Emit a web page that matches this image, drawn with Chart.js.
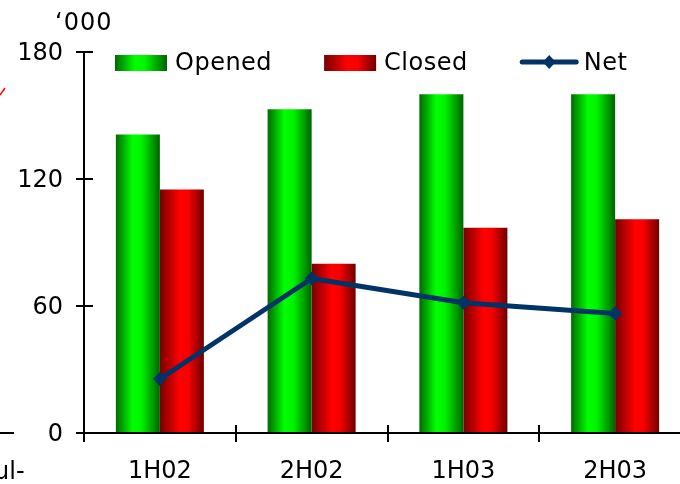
<!DOCTYPE html>
<html>
<head>
<meta charset="utf-8">
<script src="https://cdn.jsdelivr.net/npm/chart.js@4.4.0/dist/chart.umd.min.js"></script>
<style>
  html, body { margin: 0; padding: 0; background: #fff; overflow: hidden; }
  #wrap { width: 700px; height: 484px; }
</style>
</head>
<body>
<div id="wrap"><canvas id="accountsChart"></canvas></div>
<script>
// Chart data ('000 accounts)
const periods = ['1H02', '2H02', '1H03', '2H03'];
const opened = [141, 153, 160, 160];
const closed = [115, 80, 97, 101];
const net = [25.5, 73, 61.5, 56.5];
const yTicks = [0, 60, 120, 180];
const unitLabel = '‘000';

const FONT = "'DejaVu Sans', Verdana, sans-serif";
const NAVY = '#003366';
const CAT_PCT = 0.58;

// Cylinder-like shading for the bars: dark edges, bright middle
const barStops = {
    Opened: [[0, '#006a00'], [0.38, '#00ff00'], [0.58, '#00f400'], [1, '#006400']],
    Closed: [[0, '#760000'], [0.45, '#ff0000'], [0.65, '#f60000'], [1, '#6e0000']]
};

function makeGradient(ctx, x0, x1, stops) {
    const g = ctx.createLinearGradient(x0, 0, x1, 0);
    stops.forEach(([o, c]) => g.addColorStop(o, c));
    return g;
}

// Gradient per bar, placed from the x scale
function barFill(c, slot, label) {
    const chart = c.chart;
    const xs = chart.scales.x;
    const solid = label === 'Opened' ? '#00ff00' : '#ff0000';
    if (c.type !== 'data' || !xs || !(xs.width > 0)) return solid;
    const bw = (xs.width / periods.length) * CAT_PCT / 2;
    const mid = xs.getPixelForValue(c.dataIndex);
    const x0 = slot === 0 ? mid - bw : mid;
    if (!isFinite(x0)) return solid;
    return makeGradient(chart.ctx, x0, x0 + bw, barStops[label]);
}

// Axis lines with ticks crossing both sides, drawn over the bars
const crossAxes = {
    id: 'crossAxes',
    afterDatasetsDraw(chart) {
        const { ctx, chartArea: a, scales: { x, y } } = chart;
        const left = Math.round(a.left);
        const top = Math.round(a.top);
        const bottom = Math.round(a.bottom);
        ctx.save();
        ctx.fillStyle = '#000';

        // axis lines
        ctx.fillRect(left - 1, top - 1, 2, bottom - top + 2);
        ctx.fillRect(left - 1, bottom - 1, Math.round(a.right) - left + 1, 2);

        // ticks crossing the axes
        y.ticks.forEach(t => {
            const py = Math.round(y.getPixelForValue(t.value));
            ctx.fillRect(left - 8, py - 1, 17, 2);
        });
        const step = x.width / periods.length;
        for (let i = 0; i <= periods.length; i++) {
            const px = Math.round(x.left + i * step);
            ctx.fillRect(px - 1, bottom - 8, 2, 17);
        }
        ctx.restore();
    }
};

// Legend drawn inside the plot, top row
const swatchLegend = {
    id: 'swatchLegend',
    afterDraw(chart) {
        const { ctx, chartArea: a } = chart;
        ctx.save();
        ctx.font = '24px ' + FONT;
        ctx.letterSpacing = '0.5px';
        ctx.textBaseline = 'middle';
        let x = a.left + 31;
        const cy = a.top + 11;
        chart.data.datasets.forEach(ds => {
            if (ds.type === 'bar') {
                ctx.fillStyle = makeGradient(ctx, x, x + 52, barStops[ds.label]);
                ctx.fillRect(x, cy - 8, 52, 16);
                x += 60;
            } else {
                ctx.strokeStyle = NAVY;
                ctx.lineWidth = 5;
                ctx.lineCap = 'round';
                ctx.beginPath();
                ctx.moveTo(x + 2.5, cy - 1);
                ctx.lineTo(x + 56.5, cy - 1);
                ctx.stroke();
                const dx = x + 29.5, dy = cy - 1;
                ctx.fillStyle = NAVY;
                ctx.beginPath();
                ctx.moveTo(dx, dy - 7);
                ctx.lineTo(dx + 6.5, dy);
                ctx.lineTo(dx, dy + 7);
                ctx.lineTo(dx - 6.5, dy);
                ctx.closePath();
                ctx.fill();
                x += 64;
            }
            ctx.fillStyle = '#000';
            ctx.fillText(ds.label, x, cy + 1);
            x += ctx.measureText(ds.label).width + 52;
        });
        ctx.restore();
    }
};

// Unit label and the bits of the neighbouring chart at the left edge
const extras = {
    id: 'extras',
    afterDraw(chart) {
        const { ctx, chartArea: a } = chart;
        ctx.save();
        ctx.font = '24px ' + FONT;
        ctx.fillStyle = '#000';
        ctx.textBaseline = 'alphabetic';
        ctx.letterSpacing = '1px';
        ctx.fillText(unitLabel, a.left - 29, a.top - 22);
        ctx.letterSpacing = '0px';
        ctx.fillText('Jul-', -13, 479);
        ctx.fillRect(0, Math.round(a.bottom) - 1, 14, 2);
        ctx.strokeStyle = '#ff0000';
        ctx.lineWidth = 1.5;
        ctx.beginPath();
        ctx.moveTo(0, 95);
        ctx.lineTo(5, 88);
        ctx.stroke();
        ctx.restore();
    }
};

Chart.defaults.font.family = FONT;
Chart.defaults.font.size = 24;
Chart.defaults.color = '#000';

const ctx = document.getElementById('accountsChart').getContext('2d');
const accountsChart = new Chart(ctx, {
    data: {
        labels: periods,
        datasets: [
            {
                type: 'bar',
                label: 'Opened',
                data: opened,
                backgroundColor: c => barFill(c, 0, 'Opened'),
                borderWidth: 0,
                categoryPercentage: CAT_PCT,
                barPercentage: 1,
                order: 2
            },
            {
                type: 'bar',
                label: 'Closed',
                data: closed,
                backgroundColor: c => barFill(c, 1, 'Closed'),
                borderWidth: 0,
                categoryPercentage: CAT_PCT,
                barPercentage: 1,
                order: 2
            },
            {
                type: 'line',
                label: 'Net',
                data: net,
                borderColor: NAVY,
                backgroundColor: NAVY,
                borderWidth: 5,
                borderCapStyle: 'round',
                borderJoinStyle: 'round',
                tension: 0,
                pointStyle: 'rectRot',
                pointRadius: 7,
                pointBackgroundColor: NAVY,
                pointBorderColor: NAVY,
                pointBorderWidth: 0,
                order: 1
            }
        ]
    },
    options: {
        responsive: true,
        maintainAspectRatio: false,
        animation: false,
        layout: {
            padding: { left: 0, right: 9, top: 52, bottom: 0 }
        },
        plugins: {
            legend: { display: false },
            tooltip: { enabled: false },
            title: { display: false }
        },
        scales: {
            x: {
                offset: true,
                grid: { display: false, drawTicks: false, tickLength: 0 },
                border: { display: false },
                ticks: { padding: 24, font: { size: 24 }, maxRotation: 0 },
                afterFit: s => { s.height = 51; }
            },
            y: {
                min: yTicks[0],
                max: yTicks[yTicks.length - 1],
                afterBuildTicks: s => { s.ticks = yTicks.map(v => ({ value: v })); },
                grid: { display: false, drawTicks: false, tickLength: 0 },
                border: { display: false },
                ticks: { padding: 21, labelOffset: 2, font: { size: 24 } },
                afterFit: s => { s.width = 84; }
            }
        }
    },
    plugins: [crossAxes, swatchLegend, extras]
});
</script>
</body>
</html>
